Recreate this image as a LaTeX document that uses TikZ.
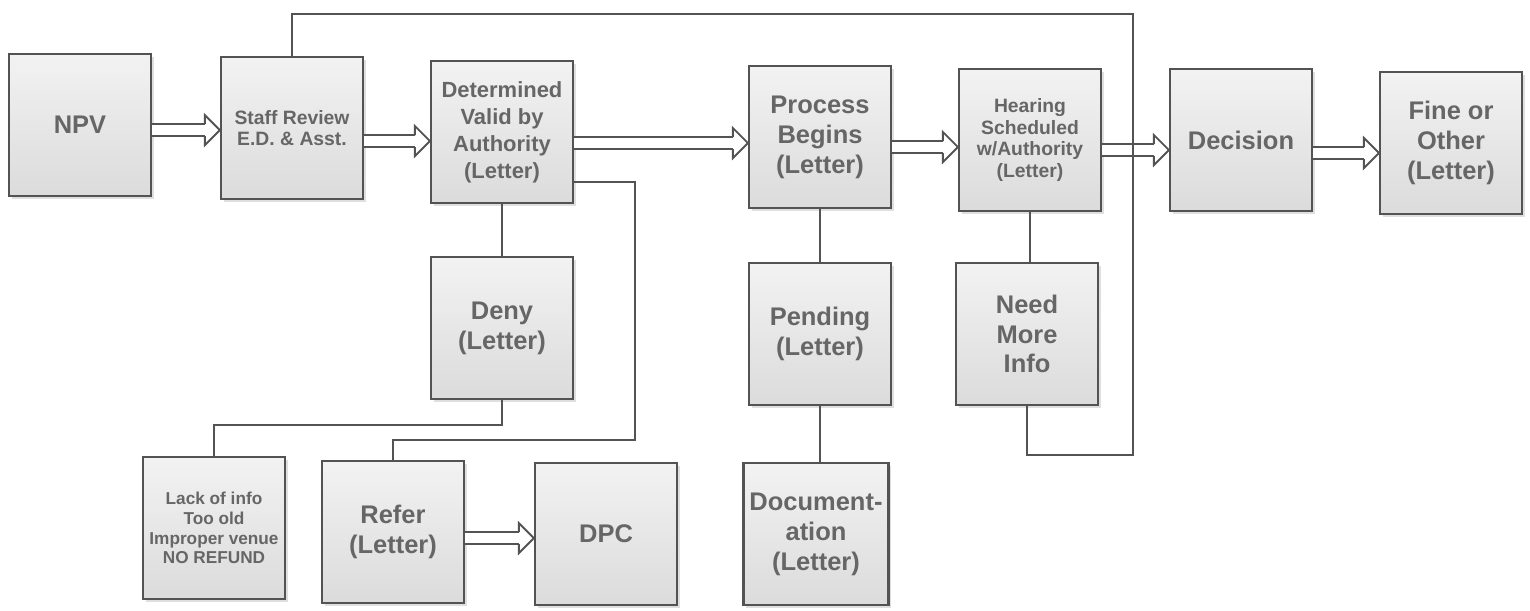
\documentclass[tikz,border=0pt]{standalone}
\usepackage{fontspec}
\setmainfont{Liberation Sans}
\usetikzlibrary{shadows}

\tikzset{
  box/.style={draw=gray!65!black, line width=1.3pt, top color=gray!10, bottom color=gray!28,
    minimum width=2.84cm, minimum height=2.84cm, align=center, text=gray!80!black,
    drop shadow={opacity=0.25, shadow xshift=1.5pt, shadow yshift=-1.5pt}},
  bigbox/.style={box, font=\fontsize{14.5}{17}\selectfont\bfseries},
  midbox/.style={box, font=\fontsize{12.5}{15.3}\selectfont\bfseries},
  smallbox/.style={box, font=\fontsize{11}{12.4}\selectfont\bfseries},
  tinybox/.style={box, font=\fontsize{9.8}{11.3}\selectfont\bfseries},
  rail/.style={draw=gray!65!black, line width=1.2pt, double=white, double distance=0.2cm, shorten >=0.3cm},
  link/.style={draw=gray!65!black, line width=1.1pt}
}

\begin{document}
\begin{tikzpicture}[x=0.02cm,y=-0.02cm]
\useasboundingbox (0,0) rectangle (1530,610);

\node[bigbox] (npv) at (80,125) {NPV};
\node[smallbox] (staff) at (292,128) {Staff Review\\E.D. \& Asst.};
\node[midbox] (valid) at (502,132) {Determined\\Valid by\\Authority\\(Letter)};
\node[bigbox] (process) at (820,137) {Process\\Begins\\(Letter)};
\node[smallbox] (hearing) at (1030,140) {Hearing\\Scheduled\\w/Authority\\(Letter)};
\node[bigbox] (decision) at (1241,140) {Decision};
\node[bigbox] (fine) at (1451,143) {Fine or\\Other\\(Letter)};
\node[bigbox] (deny) at (502,328) {Deny\\(Letter)};
\node[bigbox] (pending) at (820,334) {Pending\\(Letter)};
\node[bigbox] (moreinfo) at (1027,334) {Need\\More\\Info};
\node[tinybox] (lack) at (214,528) {Lack of info\\Too old\\Improper venue\\NO REFUND};
\node[bigbox] (refer) at (393,532) {Refer\\(Letter)};
\node[bigbox] (dpc) at (606,534) {DPC};
\node[bigbox] (docu) at (816,534) {Document-\\ation\\(Letter)};

% main line, hollow arrows
\foreach \a/\b/\y in {npv/staff/130,staff/valid/141,valid/process/143,process/hearing/147,hearing/decision/150,decision/fine/153,refer/dpc/538}{
    \draw[rail] (\a.east |- 0,\y) -- (\b.west |- 0,\y);
    \draw[link] (\b.west |- 0,\y) ++(-15,-6) -- ++(0,-9) -- (\b.west |- 0,\y) -- ++(-15,15) -- ++(0,-9);
}

\draw[link] (valid) -- (deny);
\draw[link] (deny.south) -- ++(0,25) -| (lack.north);
\coordinate (referturn) at (635,440);
\draw[link] ([yshift=-1cm]valid.east) -| (referturn) -| (refer.north);
\draw[link] (process) -- (pending);
\draw[link] (pending.south) -- (pending.south |- docu.north);
\draw[link] (hearing.south) -- (hearing.south |- moreinfo.north);

% back to staff review
\coordinate (loopbottom) at (1133,455);
\coordinate (looptop) at (1133,14);
\draw[link] (moreinfo.south) |- (loopbottom) -- (looptop) -| (staff.north);
\end{tikzpicture}
\end{document}
